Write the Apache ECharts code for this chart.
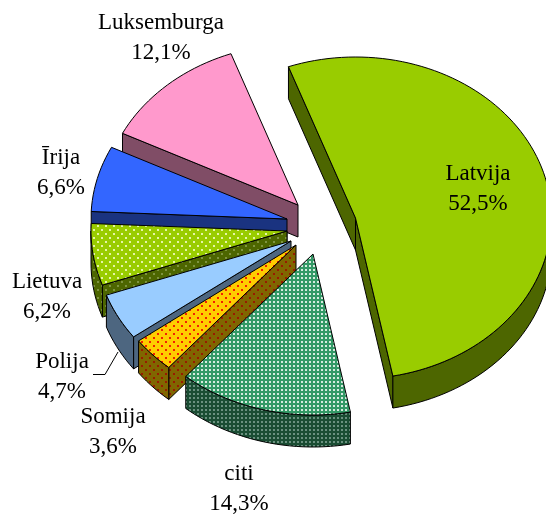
<!DOCTYPE html>
<html>
<head>
<meta charset="utf-8">
<style>html,body{margin:0;padding:0;background:#fff;overflow:hidden}#c{width:546px;height:514px}</style>
<script src="https://cdn.jsdelivr.net/npm/echarts@6/dist/echarts.min.js"></script>
</head>
<body>
<div id="c"></div>
<script>
// data (clockwise from the first slice)
var categories = ['Latvija', 'citi', 'Somija', 'Polija', 'Lietuva', 'Īrija', 'Luksemburga'];
var shares = [52.5, 14.3, 3.6, 4.7, 6.2, 6.6, 12.1];

// layout, separate from the data
var drawOrder = [6, 5, 4, 3, 2, 1, 0];
var apexX = [355.5, 313, 296, 291, 287, 287, 298];
var apexY = [218, 254, 245, 241, 231, 219, 205];
var labelX = [478, 239, 113, 62, 47, 61, 161];
var labelY = [189, 489, 432, 377, 297, 173, 38];
var rx = 196, ry = 161, depth = 32, startDeg = -20;

// style
var topColors = ['#99CC00', '#339966', '#FFCC00', '#99CCFF', '#99CC00', '#3366FF', '#FF99CC'];
var wallColors = ['#4D6600', '#1A4D33', '#806600', '#4D6680', '#4D6600', '#1A3380', '#804D66'];
var dotColors = [null, '#D6EBDF', '#F22000', null, '#E6F5A8', null, null];
var wallDotColors = [null, '#6B9180', '#991A00', null, '#7F9440', null, null];
var dotKinds = [null, 'grid', 'stagger', null, 'stagger', null, null];

function makePattern(bg, dot, kind) {
  var cv = document.createElement('canvas');
  var n = kind === 'grid' ? 4 : 8;
  cv.width = n; cv.height = n;
  var g = cv.getContext('2d');
  g.fillStyle = bg; g.fillRect(0, 0, n, n);
  g.fillStyle = dot;
  g.fillRect(1, 1, 2, 2);
  if (kind !== 'grid') g.fillRect(5, 5, 2, 2);
  return { image: cv, repeat: 'repeat' };
}
function paint(i, wall) {
  var bg = wall ? wallColors[i] : topColors[i];
  if (!dotKinds[i]) return bg;
  return makePattern(bg, wall ? wallDotColors[i] : dotColors[i], dotKinds[i]);
}
var total = shares.reduce(function (a, b) { return a + b; }, 0);
var startAngles = [], acc = startDeg;
shares.forEach(function (v) { startAngles.push(acc); acc += v / total * 360; });

function arcPoints(cx, cy, a0, a1) {
  var pts = [];
  var steps = Math.max(4, Math.ceil((a1 - a0) / 2));
  for (var k = 0; k <= steps; k++) {
    var t = (a0 + (a1 - a0) * k / steps) * Math.PI / 180;
    pts.push([cx + rx * Math.sin(t), cy - ry * Math.cos(t)]);
  }
  return pts;
}

function renderSlice(params, api) {
  var i = api.value(0);
  var share = api.value(1);
  var a0 = startAngles[i], a1 = a0 + share / total * 360;
  var cx = apexX[i], cy = apexY[i];
  var arc = arcPoints(cx, cy, a0, a1);
  var down = function (p) { return [p[0], p[1] + depth]; };
  var first = arc[0], last = arc[arc.length - 1], c = [cx, cy];
  var line = { stroke: '#000', lineWidth: 1, lineJoin: 'round' };
  var wallFill = paint(i, true);
  function poly(points, fill) {
    return { type: 'polygon', shape: { points: points }, style: Object.assign({ fill: fill }, line), silent: true };
  }
  var children = [];
  // only the faces that turn toward the viewer are drawn
  if (first[0] < cx) children.push(poly([c, first, down(first), down(c)], wallFill));
  if (last[0] > cx) children.push(poly([c, last, down(last), down(c)], wallFill));
  var r0 = Math.max(a0, 90), r1 = Math.min(a1, 270);
  if (r1 > r0) {
    var front = arcPoints(cx, cy, r0, r1);
    children.push(poly(front.concat(front.slice().reverse().map(down)), wallFill));
  }
  children.push(poly([c].concat(arc), paint(i, false)));
  children.push({ type: 'text', z2: 10, silent: true, style: {
    x: labelX[i], y: labelY[i], align: 'center', verticalAlign: 'middle',
    text: categories[i] + '\n' + share.toFixed(1).replace('.', ',') + '%',
    font: '23px "Liberation Serif"', lineHeight: 30, fill: '#000' } });
  return { type: 'group', children: children };
}

var chart = echarts.init(document.getElementById('c'), null, { renderer: 'canvas' });
chart.setOption({
  animation: false,
  backgroundColor: '#fff',
  series: [{
    type: 'custom',
    coordinateSystem: 'none',
    renderItem: renderSlice,
    data: drawOrder.map(function (i) { return { name: categories[i], value: [i, shares[i]] }; }),
    silent: true
  }],
  graphic: [{
    type: 'polyline', silent: true, z: 20,
    shape: { points: [[118, 352], [105, 374.5], [93, 374.5]] },
    style: { stroke: '#000', lineWidth: 1, fill: null }
  }]
});
</script>
</body>
</html>
